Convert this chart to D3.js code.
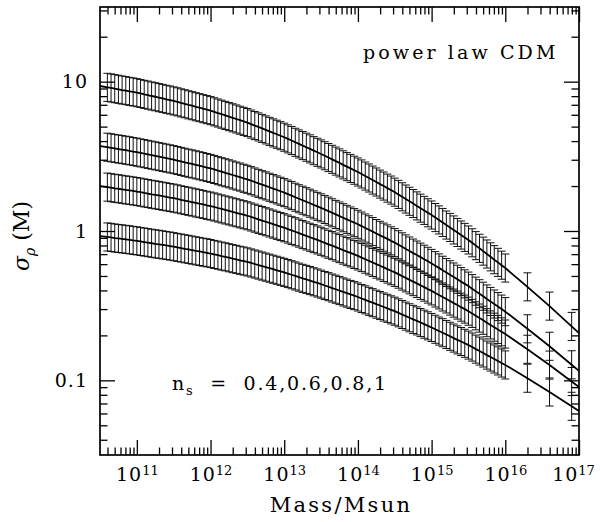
<!DOCTYPE html>
<html>
<head>
<meta charset="utf-8">
<script src="https://cdn.jsdelivr.net/npm/d3@7"></script>
<style>
  body { margin: 0; background: #fff; }
  text { font-family: "DejaVu Serif", serif; fill: #000; }
</style>
</head>
<body>
<div id="chart"></div>
<script>
// log10(M / Msun) at every error bar
const logMass = [
    10.6, 10.65, 10.7, 10.75, 10.8, 10.85, 10.9, 10.95,
    11, 11.05, 11.1, 11.15, 11.2, 11.25, 11.3, 11.35, 11.4, 11.45, 11.5, 11.55, 11.6, 11.65, 11.7, 11.75, 11.8, 11.85, 11.9, 11.95,
    12, 12.05, 12.1, 12.15, 12.2, 12.25, 12.3, 12.35, 12.4, 12.45, 12.5, 12.55, 12.6, 12.65, 12.7, 12.75, 12.8, 12.85, 12.9, 12.95,
    13, 13.05, 13.1, 13.15, 13.2, 13.25, 13.3, 13.35, 13.4, 13.45, 13.5, 13.55, 13.6, 13.65, 13.7, 13.75, 13.8, 13.85, 13.9, 13.95,
    14, 14.05, 14.1, 14.15, 14.2, 14.25, 14.3, 14.35, 14.4, 14.45, 14.5, 14.55, 14.6, 14.65, 14.7, 14.75, 14.8, 14.85, 14.9, 14.95,
    15, 15.05, 15.1, 15.15, 15.2, 15.25, 15.3, 15.35, 15.4, 15.45, 15.5, 15.55, 15.6, 15.65, 15.7, 15.75, 15.8, 15.85, 15.9, 15.95,
    16,
    16.3, 16.6, 16.9
];

// log10(sigma) of each curve at those masses (top curve first)
const logSigmaA = [
    0.962, 0.958, 0.953, 0.949, 0.944, 0.940, 0.935, 0.931,
    0.926, 0.921, 0.915, 0.910, 0.904, 0.899, 0.893, 0.888, 0.882, 0.877, 0.871, 0.865, 0.858, 0.852, 0.845, 0.839, 0.832, 0.826, 0.819, 0.813,
    0.806, 0.798, 0.790, 0.782, 0.774, 0.766, 0.758, 0.750, 0.742, 0.734, 0.726, 0.716, 0.706, 0.697, 0.687, 0.677, 0.667, 0.657, 0.648, 0.638,
    0.628, 0.617, 0.606, 0.594, 0.583, 0.572, 0.561, 0.550, 0.538, 0.527, 0.516, 0.504, 0.492, 0.480, 0.468, 0.456, 0.443, 0.431, 0.419, 0.407,
    0.395, 0.382, 0.368, 0.355, 0.341, 0.328, 0.314, 0.301, 0.287, 0.274, 0.260, 0.245, 0.229, 0.214, 0.199, 0.184, 0.168, 0.153, 0.138, 0.122,
    0.107, 0.090, 0.074, 0.057, 0.040, 0.024, 0.007, -0.010, -0.027, -0.043, -0.060, -0.079, -0.098, -0.116, -0.135, -0.154, -0.173, -0.192, -0.210, -0.229,
    -0.248,
    -0.374, -0.503, -0.639
];
const logSigmaB = [
    0.561, 0.557, 0.553, 0.549, 0.545, 0.541, 0.537, 0.532,
    0.528, 0.523, 0.518, 0.513, 0.508, 0.503, 0.498, 0.493, 0.488, 0.483, 0.478, 0.472, 0.466, 0.460, 0.454, 0.449, 0.443, 0.437, 0.431, 0.425,
    0.419, 0.412, 0.404, 0.397, 0.390, 0.383, 0.375, 0.368, 0.361, 0.353, 0.346, 0.337, 0.328, 0.319, 0.310, 0.302, 0.293, 0.284, 0.275, 0.266,
    0.257, 0.247, 0.237, 0.226, 0.216, 0.206, 0.196, 0.186, 0.175, 0.165, 0.155, 0.144, 0.133, 0.122, 0.111, 0.100, 0.089, 0.078, 0.067, 0.056,
    0.045, 0.033, 0.020, 0.008, -0.004, -0.017, -0.029, -0.041, -0.053, -0.066, -0.078, -0.092, -0.106, -0.120, -0.134, -0.148, -0.161, -0.175, -0.189, -0.203,
    -0.217, -0.232, -0.247, -0.263, -0.278, -0.293, -0.308, -0.323, -0.339, -0.354, -0.369, -0.386, -0.403, -0.420, -0.437, -0.455, -0.472, -0.489, -0.506, -0.523,
    -0.540,
    -0.655, -0.772, -0.896
];
const logSigmaC = [
    0.294, 0.290, 0.286, 0.283, 0.279, 0.275, 0.272, 0.268,
    0.264, 0.260, 0.255, 0.251, 0.246, 0.242, 0.238, 0.233, 0.229, 0.224, 0.220, 0.215, 0.209, 0.204, 0.199, 0.194, 0.188, 0.183, 0.178, 0.172,
    0.167, 0.161, 0.154, 0.148, 0.141, 0.135, 0.128, 0.122, 0.115, 0.109, 0.102, 0.094, 0.086, 0.078, 0.070, 0.062, 0.054, 0.046, 0.038, 0.030,
    0.022, 0.013, 0.004, -0.005, -0.014, -0.024, -0.033, -0.042, -0.051, -0.060, -0.069, -0.079, -0.089, -0.098, -0.108, -0.118, -0.128, -0.138, -0.147, -0.157,
    -0.167, -0.178, -0.189, -0.200, -0.211, -0.222, -0.233, -0.244, -0.255, -0.266, -0.277, -0.289, -0.302, -0.314, -0.327, -0.339, -0.351, -0.364, -0.376, -0.389,
    -0.401, -0.415, -0.428, -0.442, -0.455, -0.469, -0.483, -0.496, -0.510, -0.523, -0.537, -0.552, -0.568, -0.583, -0.598, -0.614, -0.629, -0.644, -0.659, -0.675,
    -0.690,
    -0.792, -0.898, -1.008
];
const logSigmaD = [
    -0.040, -0.043, -0.047, -0.050, -0.053, -0.056, -0.059, -0.063,
    -0.066, -0.070, -0.074, -0.078, -0.082, -0.086, -0.089, -0.093, -0.097, -0.101, -0.105, -0.110, -0.114, -0.119, -0.123, -0.128, -0.133, -0.137, -0.142, -0.146,
    -0.151, -0.157, -0.162, -0.168, -0.173, -0.179, -0.185, -0.190, -0.196, -0.201, -0.207, -0.214, -0.221, -0.228, -0.235, -0.242, -0.249, -0.256, -0.263, -0.270,
    -0.277, -0.285, -0.293, -0.301, -0.309, -0.317, -0.324, -0.332, -0.340, -0.348, -0.356, -0.365, -0.373, -0.382, -0.390, -0.399, -0.408, -0.416, -0.425, -0.433,
    -0.442, -0.452, -0.461, -0.471, -0.480, -0.490, -0.499, -0.509, -0.518, -0.528, -0.537, -0.548, -0.559, -0.570, -0.581, -0.592, -0.602, -0.613, -0.624, -0.635,
    -0.646, -0.658, -0.670, -0.681, -0.693, -0.705, -0.717, -0.729, -0.740, -0.752, -0.764, -0.777, -0.791, -0.804, -0.817, -0.831, -0.844, -0.857, -0.870, -0.884,
    -0.897,
    -0.986, -1.078, -1.174
];

// where the model curves meet the frame (log10 M, then log10 sigma per curve)
const edgeLogMass = [10.5, 17];
const edgeA = [0.971, -0.684];
const edgeB = [0.569, -0.937];
const edgeC = [0.301, -1.045];
const edgeD = [-0.034, -1.206];

// half height of every error bar, in dex
const errDex = [0.094, 0.094, 0.094, 0.094];

const xTickExponents = ["11", "12", "13", "14", "15", "16", "17"];
const yTickValues = [0.1, 1, 10];
const yTickLabels = ["0.1", "1", "10"];

const series = [
    { logSigma: logSigmaA, edge: edgeA, err: errDex[0] },
    { logSigma: logSigmaB, edge: edgeB, err: errDex[1] },
    { logSigma: logSigmaC, edge: edgeC, err: errDex[2] },
    { logSigma: logSigmaD, edge: edgeD, err: errDex[3] }
];

const width = 600, height = 522;
const plotLeft = 100, plotRight = 579, plotTop = 7, plotBottom = 455;

const svg = d3.select("#chart").append("svg")
    .attr("width", width)
    .attr("height", height);

const x = d3.scaleLog().domain([10 ** edgeLogMass[0], 10 ** edgeLogMass[1]]).range([plotLeft, plotRight]);
const y = d3.scaleLog().domain([10 ** -1.5, 10 ** 1.5]).range([plotBottom, plotTop]);

const isMajor = v => Math.abs(Math.log10(v) - Math.round(Math.log10(v))) < 1e-9;
const xMajor = x.ticks().filter(isMajor);
const xMinor = x.ticks().filter(v => !isMajor(v));
const yMinor = y.ticks().filter(v => !isMajor(v));

// error bars
const capHalf = 4;
series.forEach(s => {
    const pts = logMass.map((m, i) => ({ m: m, v: s.logSigma[i] }));
    const g = svg.append("g")
        .attr("stroke", "#111")
        .attr("stroke-width", 1);

    g.selectAll(".bar").data(pts).enter().append("line")
        .attr("x1", d => x(10 ** d.m))
        .attr("x2", d => x(10 ** d.m))
        .attr("y1", d => y(10 ** (d.v + s.err)))
        .attr("y2", d => y(10 ** (d.v - s.err)));

    [1, -1].forEach(sign => {
        g.selectAll(".cap" + sign).data(pts).enter().append("line")
            .attr("x1", d => x(10 ** d.m) - capHalf)
            .attr("x2", d => x(10 ** d.m) + capHalf)
            .attr("y1", d => y(10 ** (d.v + sign * s.err)))
            .attr("y2", d => y(10 ** (d.v + sign * s.err)));
    });
});

// model curves
const line = d3.line()
    .x(d => x(10 ** d[0]))
    .y(d => y(10 ** d[1]));

series.forEach(s => {
    const pts = [[edgeLogMass[0], s.edge[0]]]
        .concat(logMass.map((m, i) => [m, s.logSigma[i]]))
        .concat([[edgeLogMass[1], s.edge[1]]]);
    svg.append("path")
        .datum(pts)
        .attr("fill", "none")
        .attr("stroke", "#000")
        .attr("stroke-width", 1.8)
        .attr("d", line);
});

// axes: major and minor ticks on all four sides, pointing inward
function ticks(axisFn, scale, vals, size, transform) {
    const g = svg.append("g")
        .attr("transform", transform)
        .call(axisFn(scale).tickValues(vals).tickSizeInner(-size).tickSizeOuter(0).tickFormat(""));
    g.select(".domain").remove();
    g.selectAll("line").attr("stroke", "#000").attr("stroke-width", 1.3);
    return g;
}

const gx = ticks(d3.axisBottom, x, xMajor, 15, `translate(0,${plotBottom})`);
ticks(d3.axisBottom, x, xMinor, 7.5, `translate(0,${plotBottom})`);
ticks(d3.axisTop, x, xMajor, 15, `translate(0,${plotTop})`);
ticks(d3.axisTop, x, xMinor, 7.5, `translate(0,${plotTop})`);

const gy = ticks(d3.axisLeft, y, yTickValues, 15, `translate(${plotLeft},0)`);
ticks(d3.axisLeft, y, yMinor, 7.5, `translate(${plotLeft},0)`);
ticks(d3.axisRight, y, yTickValues, 15, `translate(${plotRight},0)`);
ticks(d3.axisRight, y, yMinor, 7.5, `translate(${plotRight},0)`);

// x tick labels 10^n (the last one is nudged left so it stays on the page)
gx.selectAll(".tick text").each(function(d, i) {
    const t = d3.select(this)
        .attr("x", i === xTickExponents.length - 1 ? -6 : 0)
        .attr("y", 26)
        .attr("dy", null)
        .attr("font-size", 19)
        .attr("fill", "#000")
        .text(null);
    t.append("tspan").attr("letter-spacing", 1).text("10");
    t.append("tspan").attr("dy", "-0.5em").attr("font-size", 13).text(xTickExponents[i]);
});

// y tick labels
gy.selectAll(".tick text").each(function(d, i) {
    d3.select(this)
        .attr("x", -12)
        .attr("font-size", 19)
        .attr("fill", "#000")
        .attr("letter-spacing", 1)
        .text(yTickLabels[i]);
});

// frame
svg.append("rect")
    .attr("x", plotLeft).attr("y", plotTop)
    .attr("width", plotRight - plotLeft).attr("height", plotBottom - plotTop)
    .attr("fill", "none")
    .attr("stroke", "#000")
    .attr("stroke-width", 1.7);

// annotations
svg.append("text")
    .attr("x", 363).attr("y", 59)
    .attr("font-size", 19)
    .attr("letter-spacing", 3.1)
    .text("power law CDM");

const ns = svg.append("text")
    .attr("x", 172).attr("y", 390)
    .attr("font-size", 19)
    .attr("letter-spacing", 1.8)
    .style("white-space", "pre");
ns.append("tspan").text("n");
ns.append("tspan").attr("dy", 5).attr("font-size", 13).text("s");
ns.append("tspan").attr("dy", -5).text("  =  0.4,0.6,0.8,1");

svg.append("text")
    .attr("x", 341).attr("y", 512)
    .attr("text-anchor", "middle")
    .attr("font-size", 21)
    .attr("letter-spacing", 2.3)
    .text("Mass/Msun");

const yl = svg.append("text")
    .attr("transform", "translate(29,236) rotate(-90)")
    .attr("text-anchor", "middle")
    .attr("font-size", 22)
    .style("white-space", "pre");
yl.append("tspan").attr("font-style", "italic").text("σ");
yl.append("tspan").attr("font-style", "italic").attr("font-size", 14).attr("dy", 6).text("ρ");
yl.append("tspan").attr("dy", -6).text(" (M)");
</script>
</body>
</html>
